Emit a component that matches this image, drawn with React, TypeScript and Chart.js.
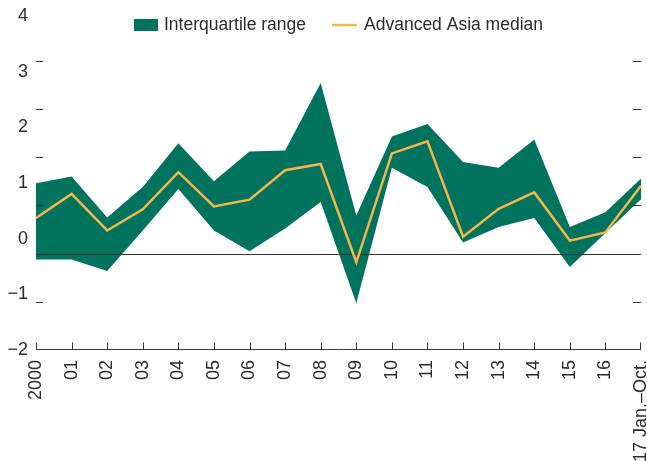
import React, { useEffect, useRef } from "react";
import { Chart, registerables } from "chart.js";

Chart.register(...registerables);

const categories = [
  "2000", "01", "02", "03", "04", "05", "06", "07", "08",
  "09", "10", "11", "12", "13", "14", "15", "16", "17 Jan.–Oct.",
];

const upperQuartile = [
  1.46, 1.6, 0.75, 1.38, 2.29, 1.5, 2.12, 2.14, 3.54,
  0.79, 2.43, 2.69, 1.9, 1.78, 2.37, 0.55, 0.86, 1.56,
];

const lowerQuartile = [
  -0.12, -0.12, -0.36, 0.48, 1.34, 0.48, 0.05, 0.52, 1.07,
  -1.03, 1.78, 1.38, 0.23, 0.55, 0.74, -0.28, 0.43, 1.13,
];

const medianValues = [
  0.74, 1.24, 0.48, 0.92, 1.69, 0.98, 1.12, 1.73, 1.86,
  -0.18, 2.08, 2.33, 0.35, 0.93, 1.27, 0.27, 0.44, 1.41,
];

const yTickValues = [-2, -1, 0, 1, 2, 3, 4];
const legendLabels = ["Interquartile range", "Advanced Asia median"];

const FONT = "'Liberation Sans', Arial, sans-serif";
const GREEN = "#00735F";
const ORANGE = "#F6B649";
const INK = "#2b2b2b";

const decorPlugin = {
  id: "decor",
  afterDatasetDraw(chart: any, args: any) {
    if (args.index !== 0) return;
    const { ctx, chartArea } = chart;
    const y = chart.scales.y;
    const py = Math.round(y.getPixelForValue(0)) + 0.5;
    ctx.save();
    ctx.strokeStyle = "#333";
    ctx.lineWidth = 1;
    ctx.beginPath();
    ctx.moveTo(chartArea.left, py);
    ctx.lineTo(chartArea.right, py);
    ctx.stroke();
    ctx.restore();
  },
  afterDraw(chart: any) {
    const { ctx, chartArea } = chart;
    const y = chart.scales.y;
    const x = chart.scales.x;
    ctx.save();
    ctx.strokeStyle = "#333";
    ctx.lineWidth = 1;
    // y tick marks, inward on both sides
    ctx.beginPath();
    yTickValues.forEach((v) => {
      if (v === yTickValues[0]) return;
      const py = Math.round(y.getPixelForValue(v)) + 0.5;
      ctx.moveTo(chartArea.left, py);
      ctx.lineTo(chartArea.left + 7, py);
      ctx.moveTo(chartArea.right - 8, py);
      ctx.lineTo(chartArea.right, py);
    });
    ctx.stroke();
    // bottom axis with upward ticks
    const by = Math.round(chartArea.bottom) - 0.5;
    ctx.beginPath();
    ctx.moveTo(chartArea.left, by);
    ctx.lineTo(chartArea.right, by);
    categories.forEach((_, i) => {
      const px = Math.round(x.getPixelForValue(i)) + (i === categories.length - 1 ? -0.5 : 0.5);
      ctx.moveTo(px, by);
      ctx.lineTo(px, by - 7);
    });
    ctx.stroke();

    // legend inside chart area
    ctx.font = `17.5px ${FONT}`;
    ctx.textBaseline = "middle";
    ctx.textAlign = "left";
    const w1 = ctx.measureText(legendLabels[0]).width;
    const w2 = ctx.measureText(legendLabels[1]).width;
    const total = 24 + 6 + w1 + 26 + 25 + 7 + w2;
    let lx = (chartArea.left + chartArea.right) / 2 - total / 2;
    const cy = chartArea.top + 9;
    ctx.fillStyle = GREEN;
    ctx.fillRect(lx, cy - 6, 24, 12);
    lx += 30;
    ctx.fillStyle = INK;
    ctx.fillText(legendLabels[0], lx, cy);
    lx += w1 + 26;
    ctx.strokeStyle = ORANGE;
    ctx.lineWidth = 2.5;
    ctx.beginPath();
    ctx.moveTo(lx, cy);
    ctx.lineTo(lx + 25, cy);
    ctx.stroke();
    lx += 32;
    ctx.fillText(legendLabels[1], lx, cy);
    ctx.restore();
  },
};

export default function App() {
  const ref = useRef<HTMLCanvasElement>(null);
  useEffect(() => {
    const chart = new Chart(ref.current as HTMLCanvasElement, {
      type: "line",
      data: {
        labels: categories,
        datasets: [
          {
            label: legendLabels[0],
            data: upperQuartile,
            yAxisID: "y",
            borderWidth: 0,
            pointRadius: 0,
            backgroundColor: GREEN,
            fill: 1,
            order: 3,
            tension: 0,
          },
          {
            label: "Lower quartile",
            data: lowerQuartile,
            yAxisID: "y",
            borderWidth: 0,
            pointRadius: 0,
            fill: false,
            order: 2,
            tension: 0,
          },
          {
            label: legendLabels[1],
            data: medianValues,
            yAxisID: "y",
            borderColor: ORANGE,
            borderWidth: 2.5,
            pointRadius: 0,
            fill: false,
            order: 1,
            tension: 0,
            borderJoinStyle: "miter",
          },
        ],
      },
      options: {
        responsive: false,
        animation: false,
        events: [],
        layout: { padding: { top: 16, right: 6, left: 0, bottom: 0 } },
        plugins: {
          legend: { display: false },
          tooltip: { enabled: false },
        },
        scales: {
          x: {
            type: "category",
            offset: false,
            grid: { display: false, drawTicks: false },
            border: { display: false },
            ticks: {
              autoSkip: false,
              minRotation: 90,
              maxRotation: 90,
              padding: 10,
              color: INK,
              font: { family: FONT, size: 18 },
            },
            afterFit: (s: any) => {
              s.height = 111;
              s.paddingLeft = 0;
              s.paddingRight = 0;
            },
          },
          y: {
            type: "linear",
            position: "right",
            display: false,
            min: -2,
            max: 4.93,
          },
          yLabels: {
            type: "linear",
            position: "left",
            min: yTickValues[0],
            max: yTickValues[yTickValues.length - 1],
            grid: { display: false, drawTicks: false },
            border: { display: false },
            ticks: {
              stepSize: 1,
              padding: 8,
              color: INK,
              font: { family: FONT, size: 18 },
              callback: (v: any) => (v < 0 ? "\u2212" + Math.abs(v) : String(v)),
            },
            afterFit: (s: any) => {
              s.width = 36;
              s.paddingTop = 0;
              s.paddingBottom = 0;
            },
          },
        },
      },
      plugins: [decorPlugin],
    } as any);
    return () => chart.destroy();
  }, []);
  return (
    <div style={{ position: "fixed", left: 0, top: 0, width: 647, height: 461, background: "#fff" }}>
      <canvas ref={ref} width={647} height={461} style={{ display: "block", width: 647, height: 461 }} />
    </div>
  );
}
